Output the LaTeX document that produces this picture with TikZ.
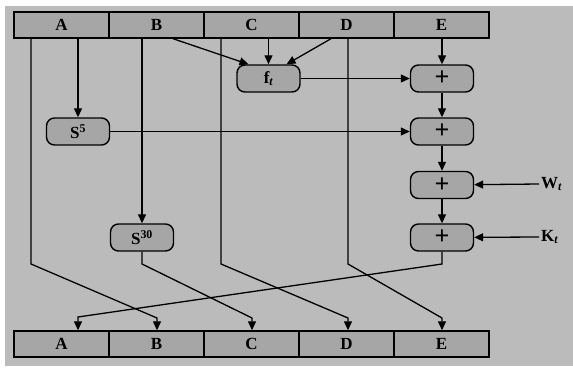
\documentclass[tikz,border=0pt]{standalone}
\usepackage{fontspec}
\setmainfont{Liberation Serif}
\usetikzlibrary{positioning,arrows.meta}
\definecolor{bggray}{HTML}{BBBBBB}
\definecolor{boxgray}{HTML}{A6A6A6}
\tikzset{
    cell/.style={draw, line width=1.4pt, fill=boxgray, minimum width=95pt, minimum height=26pt, inner sep=0pt, font=\bfseries\fontsize{17}{19}\selectfont},
    op/.style={draw, line width=1.4pt, fill=boxgray, rounded corners=8pt, minimum width=63pt, minimum height=27pt, inner sep=0pt, font=\bfseries\fontsize{17}{19}\selectfont},
    plus/.style={op, font=\bfseries\fontsize{26}{26}\selectfont},
    flow/.style={line width=1.3pt, -{Triangle[length=9pt, width=8pt]}}
}
\begin{document}
\begin{tikzpicture}[x=1pt, y=-1pt]
    \useasboundingbox (0,0) rectangle (573,372);
    \fill[white] (0,0) rectangle (573,372);
    \fill[bggray] (5,6) rectangle (573,366);
    % registers
    \node[cell] (tA) at (61.5,25) {A};
    \node[cell, right=-1.4pt of tA] (tB) {B};
    \node[cell, right=-1.4pt of tB] (tC) {C};
    \node[cell, right=-1.4pt of tC] (tD) {D};
    \node[cell, right=-1.4pt of tD] (tE) {E};
    \node[cell] (bA) at (61.5,344) {A};
    \node[cell, right=-1.4pt of bA] (bB) {B};
    \node[cell, right=-1.4pt of bB] (bC) {C};
    \node[cell, right=-1.4pt of bC] (bD) {D};
    \node[cell, right=-1.4pt of bD] (bE) {E};
    % operations
    \node[op] (ft) at (268.5,78.5) {f\textsubscript{\itshape t}};
    \node[op] (s5) at (78,131.5) {S\textsuperscript{5}};
    \node[op] (s30) at (142,237.5) {S\textsuperscript{30}};
    \node[plus] (add1) at (442,78.5) {+};
    \node[plus] (add2) at (442,131.5) {+};
    \node[plus] (add3) at (442,185) {+};
    \node[plus] (add4) at (442,237.5) {+};
    \node[font=\bfseries\fontsize{17}{19}\selectfont, anchor=west, inner sep=2pt] (wt) at (539,184) {W\textsubscript{\itshape t}};
    \node[font=\bfseries\fontsize{17}{19}\selectfont, anchor=west, inner sep=2pt] (kt) at (539,237) {K\textsubscript{\itshape t}};
    % bends
    \coordinate (a0) at (31,264);
    \coordinate (a1) at (157,318);
    \coordinate (b0) at (142,264);
    \coordinate (b1) at (252,318);
    \coordinate (c0) at (221,264);
    \coordinate (c1) at (348,318);
    \coordinate (d0) at (348,264);
    \coordinate (d1) at (442,318);
    \coordinate (e0) at (442,264);
    \coordinate (e1) at (78,317);
    % shuffle
    \draw[flow] (tA.south -| a0) -- (a0) -- (a1) -- (bB.north -| a1);
    \draw[flow] (tA.south -| s5) -- (s5);
    \draw[flow] (tB.south -| s30) -- (s30);
    \draw[flow] (s30) -- (b0) -- (b1) -- (bC.north -| b1);
    \draw[flow] (tC.south -| c0) -- (c0) -- (c1) -- (bD.north -| c1);
    \draw[flow] (tD.south -| d0) -- (d0) -- (d1) -- (bE.north -| d1);
    \draw[flow] (tB.south -| 173,0) -- ([xshift=-20pt]ft.north);
    \draw[flow] (tC.south -| ft) -- (ft);
    \draw[flow] (tD.south -| 331,0) -- ([xshift=18pt]ft.north);
    \draw[flow] (tE.south -| add1) -- (add1);
    \draw[flow] (ft) -- (add1);
    \draw[flow] (s5) -- (add2);
    \draw[flow] (add1) -- (add2);
    \draw[flow] (add2) -- (add3);
    \draw[flow] (add3) -- (add4);
    \draw[flow] (wt.west) -- (add3);
    \draw[flow] (kt.west) -- (add4);
    \draw[flow] (add4) -- (e0) -- (e1) -- (bA.north -| e1);
\end{tikzpicture}
\end{document}
